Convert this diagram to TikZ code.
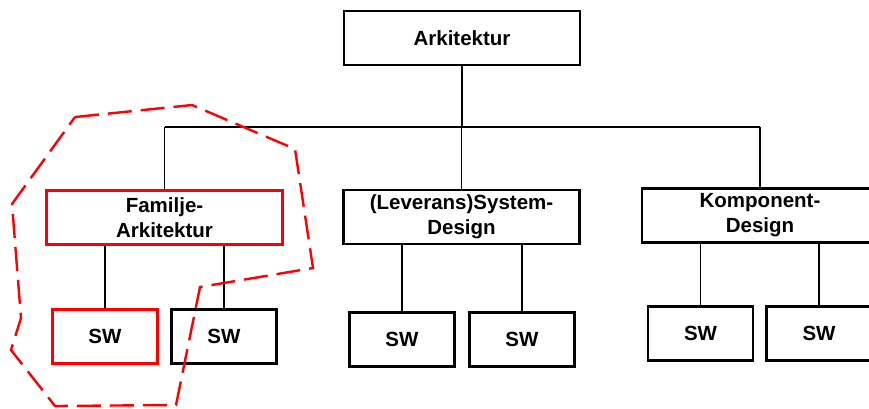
\documentclass[tikz,border=0pt]{standalone}
\usepackage{fontspec}
\setmainfont{Liberation Sans}
\begin{document}
\begin{tikzpicture}[x=1pt,y=-1pt,
  box/.style={draw, line width=2.6pt, align=center, inner sep=0pt,
    font=\bfseries\fontsize{20.5}{25}\selectfont},
  levelbox/.style={box, minimum width=236pt, minimum height=54pt},
  swbox/.style={box, minimum width=105pt, minimum height=54pt},
  marked/.style={draw=red, line width=2.3pt},
  link/.style={line width=1.3pt},
  fence/.style={red, line width=2.4pt, dash pattern=on 24pt off 9pt, line join=miter}]
\clip (0,0) rectangle (869,408);

% top level
\node[levelbox] (arch) at (462,38) {Arkitektur};

% second level
\node[levelbox, marked] (fam)  at (164.5,217.5) {Familje-\\Arkitektur};
\node[levelbox]         (sys)  at (461.5,217)   {(Leverans)System-\\Design};
\node[levelbox]         (komp) at (760,215.5)   {Komponent-\\Design};

% software blocks
\node[swbox, marked] (sw1) at (105,336.5)   {SW};
\node[swbox]         (sw2) at (224,336.5)   {SW};
\node[swbox]         (sw3) at (402,339.5)   {SW};
\node[swbox]         (sw4) at (522,339.5)   {SW};
\node[swbox]         (sw5) at (700.5,333.5) {SW};
\node[swbox]         (sw6) at (819,333.5)   {SW};

% tree connectors
\coordinate (bus) at (0,127);
\draw[link] (arch.south) -- (arch.south |- bus);
\draw[link] (fam.north |- bus) -- (komp.north |- bus);
\draw[link] (fam.north |- bus) -- (fam.north);
\draw[link] (sys.north |- bus) -- (sys.north);
\draw[link] (komp.north |- bus) -- (komp.north);
\foreach \parent/\child in {fam/sw1, fam/sw2, sys/sw3, sys/sw4, komp/sw5, komp/sw6}
  \draw[link] (\child.north |- \parent.south) -- (\child.north);

% dashed boundary around the family branch
\draw[fence] (75,117) -- (192,105) -- (295,149) -- (313,268) -- (200,287)
  -- (176,405) -- (55,406) -- (11,350) -- (21,318) -- (12,204) -- cycle;
\end{tikzpicture}
\end{document}
